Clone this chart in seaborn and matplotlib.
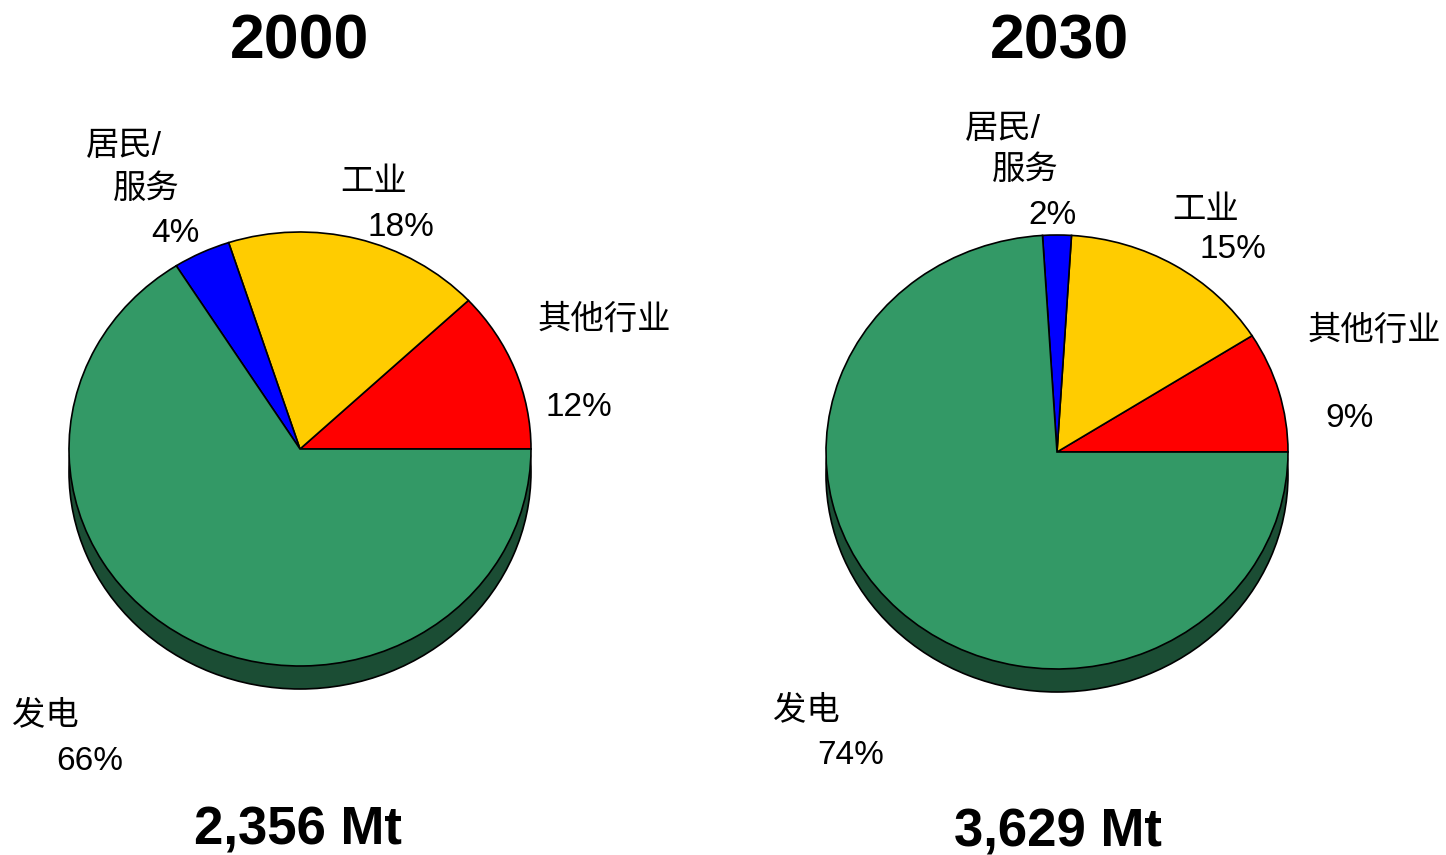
import numpy as np
import matplotlib
matplotlib.use("Agg")
import matplotlib.pyplot as plt
import seaborn as sns

# =============================================================================
# Data
# =============================================================================
years = ["2000", "2030"]
totals = ["2,356 Mt", "3,629 Mt"]
sectors = ["其他行业", "工业", "居民/服务", "发电"]
share_2000 = [12, 18, 4, 66]
share_2030 = [9, 15, 2, 74]
sector_colors = ["#FF0000", "#FFCC00", "#0000FF", "#339966"]
shadow_color = "#1B4D34"

# =============================================================================
# Style
# =============================================================================
sns.set_theme(style="white")
plt.rcParams['font.family'] = ['Liberation Sans', 'Noto Sans CJK SC', 'DejaVu Sans']

W, H = 1446, 855
fig = plt.figure(figsize=(W / 100, H / 100), dpi=100)
fig.patch.set_facecolor("white")

# pie geometry in pixels (centre x, centre y from top), radii
pie_centres = [(300, 449), (1057, 452)]
rx, ry = 231, 217
shadow_dy = 23

# label positions in pixels: (left x, centre y from top) per text line
label_pos = [
    {
        "其他行业": [(538, 320, "其他行业"), (546, 407, "{}%")],
        "工业": [(340, 183, "工业"), (368, 227, "{}%")],
        "居民/服务": [(86, 146, "居民/"), (113, 189, "服务"), (151, 233, "{}%")],
        "发电": [(12, 716, "发电"), (56, 761, "{}%")],
    },
    {
        "其他行业": [(1308, 331, "其他行业"), (1325, 418, "{}%")],
        "工业": [(1172, 210, "工业"), (1200, 250, "{}%")],
        "居民/服务": [(965, 129, "居民/"), (992, 170, "服务"), (1028, 216, "{}%")],
        "发电": [(773, 711, "发电"), (817, 755, "{}%")],
    },
]
title_pos = [(300, 42), (1059, 42)]
total_pos = [(298, 830), (1058, 832)]

for k, shares in enumerate([share_2000, share_2030]):
    cx, cy = pie_centres[k]
    ax = fig.add_axes([(cx - rx) / W, (H - cy - ry) / H, 2 * rx / W, 2 * ry / H])
    # 3D-like rim: dark ellipse offset downwards
    ax.pie([1], colors=[shadow_color], radius=1, center=(0, -shadow_dy / ry),
           wedgeprops=dict(edgecolor="black", linewidth=1.2))
    ax.pie(shares, colors=sector_colors, startangle=0, counterclock=True, radius=1,
           wedgeprops=dict(edgecolor="black", linewidth=1.2))
    ax.set_aspect("auto")
    ax.set_xlim(-1, 1)
    ax.set_ylim(-1, 1)
    ax.axis("off")
    for p in ax.patches:
        p.set_clip_on(False)

    for sector, share in zip(sectors, shares):
        for x, y, txt in label_pos[k][sector]:
            fig.text(x / W, 1 - y / H, txt.format(share), fontsize=24,
                     ha="left", va="center", color="black")

    tx, ty = title_pos[k]
    fig.text(tx / W, 1 - ty / H, years[k], fontsize=45, fontweight="bold",
             ha="center", va="center", color="black")
    bx, by = total_pos[k]
    fig.text(bx / W, 1 - by / H, totals[k], fontsize=38, fontweight="bold",
             ha="center", va="center", color="black")

fig.savefig("out.png", dpi=100, facecolor="white")
plt.close(fig)
